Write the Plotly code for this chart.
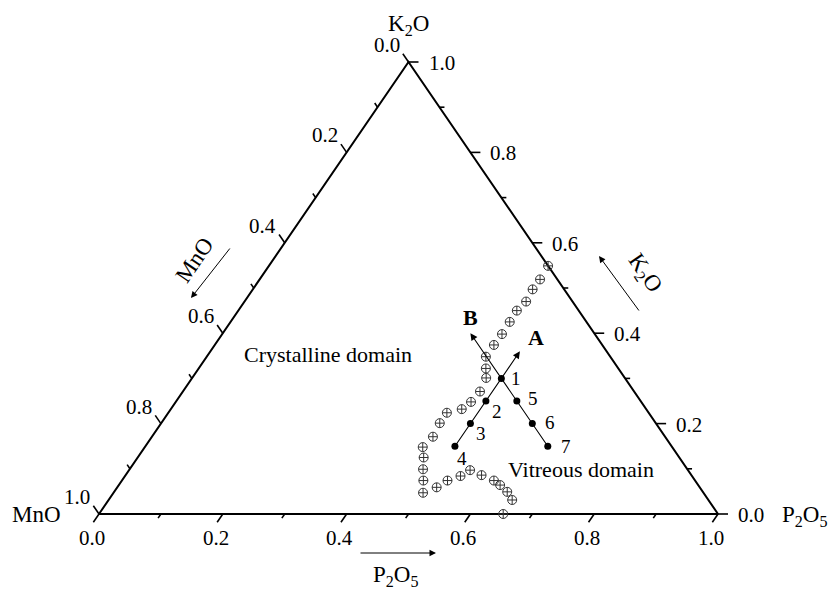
import math
import plotly.graph_objects as go

# ---------------- data ----------------
tick_major = [0.0, 0.2, 0.4, 0.6, 0.8, 1.0]
tick_minor = [0.1, 0.3, 0.5, 0.7, 0.9]
tick_text = ["0.0", "0.2", "0.4", "0.6", "0.8", "1.0"]

# glass-forming boundary (circle-plus markers), compositions (mole fraction)
bnd_k2o = [0.549, 0.519, 0.497, 0.470, 0.450, 0.425, 0.398, 0.374, 0.348,
           0.322, 0.301, 0.271, 0.248, 0.232, 0.224, 0.201, 0.171, 0.148,
           0.125, 0.099, 0.074, 0.047, 0.059, 0.074, 0.084, 0.097, 0.086,
           0.074, 0.064, 0.049, 0.031, 0.000]
bnd_mno = [0.000, 0.028, 0.051, 0.075, 0.100, 0.124, 0.150, 0.175, 0.201,
           0.214, 0.224, 0.249, 0.275, 0.298, 0.326, 0.349, 0.375, 0.403,
           0.413, 0.427, 0.439, 0.453, 0.425, 0.400, 0.374, 0.352, 0.339,
           0.325, 0.320, 0.316, 0.317, 0.347]
bnd_p2o5 = [0.451, 0.453, 0.452, 0.455, 0.450, 0.451, 0.452, 0.451, 0.451,
            0.464, 0.475, 0.480, 0.477, 0.470, 0.450, 0.450, 0.454, 0.449,
            0.462, 0.474, 0.487, 0.500, 0.516, 0.526, 0.542, 0.551, 0.575,
            0.601, 0.616, 0.635, 0.652, 0.653]

# studied glasses 1..7
pt_names = ["1", "2", "3", "4", "5", "6", "7"]
pt_k2o = [0.30, 0.25, 0.20, 0.15, 0.25, 0.20, 0.15]
pt_mno = [0.20, 0.25, 0.30, 0.35, 0.20, 0.20, 0.20]
pt_p2o5 = [0.50, 0.50, 0.50, 0.50, 0.55, 0.60, 0.65]

# composition lines A (P2O5 = 0.5) and B (MnO = 0.2): start, arrow tip
lineA_k2o = [0.15, 0.36]
lineA_mno = [0.35, 0.14]
lineA_p2o5 = [0.50, 0.50]
lineB_k2o = [0.15, 0.40]
lineB_mno = [0.20, 0.20]
lineB_p2o5 = [0.65, 0.40]

# ---------------- geometry / style ----------------
W, H = 832, 590
OX, OY = 99, 514        # pixel of the MnO corner
SX, SY = 619, 452       # pixels per unit along x and y
FONT = "Liberation Serif"


def to_xy(k, m, p):
    s = k + m + p
    return (p + 0.5 * k) / s, k / s


def px2d(px, py):
    return (px - OX) / SX, (OY - py) / SY


def seg_end(x, y, ux, uy, L):
    n = math.hypot(ux, uy)
    return x + L * ux / n / SX, y - L * uy / n / SY


fig = go.Figure()

# triangle frame
vx, vy = zip(*[to_xy(0, 1, 0), to_xy(0, 0, 1), to_xy(1, 0, 0), to_xy(0, 1, 0)])
fig.add_trace(go.Scatter(x=vx, y=vy, mode="lines",
                         line=dict(color="black", width=2), hoverinfo="skip"))

# ticks
edges = {
    "bottom": (lambda v: to_xy(0, 1 - v, v), (-0.5 * SX, SY)),
    "right": (lambda v: to_xy(v, 0, 1 - v), (1.0, 0.0)),
    "left": (lambda v: to_xy(1 - v, v, 0), (-0.5 * SX, -SY)),
}
tx, ty = [], []
for name, (f, (ux, uy)) in edges.items():
    for vals, L in ((tick_major, 10), (tick_minor, 5)):
        for v in vals:
            x, y = f(v)
            ex, ey = seg_end(x, y, ux, uy, L)
            tx += [x, ex, None]
            ty += [y, ey, None]
fig.add_trace(go.Scatter(x=tx, y=ty, mode="lines",
                         line=dict(color="black", width=1.6), hoverinfo="skip"))

ann = []
lab_font = dict(family=FONT, size=21, color="black")
for v, t in zip(tick_major, tick_text):
    x, y = edges["bottom"][0](v)
    ann.append(dict(x=x, y=y, text=t, showarrow=False, xanchor="center",
                    yanchor="middle", xshift=-7, yshift=-24, font=lab_font))
    x, y = edges["right"][0](v)
    ann.append(dict(x=x, y=y, text=t, showarrow=False, xanchor="left",
                    yanchor="middle", xshift=18, yshift=-1, font=lab_font))
    x, y = edges["left"][0](v)
    ann.append(dict(x=x, y=y, text=t, showarrow=False, xanchor="right",
                    yanchor="middle", xshift=-7, yshift=17, font=lab_font))

# boundary markers
bx, by = zip(*[to_xy(k, m, p) for k, m, p in zip(bnd_k2o, bnd_mno, bnd_p2o5)])
fig.add_trace(go.Scatter(x=bx, y=by, mode="markers",
                         marker=dict(symbol="circle-cross-open", size=9,
                                     color="#333333", line=dict(width=1)),
                         hoverinfo="skip"))

# composition lines with arrows
for ks, ms, ps, lab, lab_off in ((lineA_k2o, lineA_mno, lineA_p2o5, "A", (16, 14)),
                                  (lineB_k2o, lineB_mno, lineB_p2o5, "B", (0, 16))):
    x0, y0 = to_xy(ks[0], ms[0], ps[0])
    x1, y1 = to_xy(ks[1], ms[1], ps[1])
    ann.append(dict(x=x1, y=y1, ax=x0, ay=y0, axref="x", ayref="y",
                    xref="x", yref="y", text="", showarrow=True,
                    arrowhead=2, arrowsize=1.3, arrowwidth=1.1,
                    arrowcolor="black", standoff=0))
    ann.append(dict(x=x1, y=y1, text="<b>%s</b>" % lab, showarrow=False,
                    xshift=lab_off[0], yshift=lab_off[1],
                    font=dict(family=FONT, size=22, color="black")))

# sample points
px_, py_ = zip(*[to_xy(k, m, p) for k, m, p in zip(pt_k2o, pt_mno, pt_p2o5)])
fig.add_trace(go.Scatter(x=px_, y=py_, mode="markers",
                         marker=dict(symbol="circle", size=7, color="black"),
                         hoverinfo="skip"))
num_off = [(15, 0), (11, -10), (11, -10), (7, -12), (16, 3), (18, 1), (18, 0)]
for (x, y), t, (dx, dy) in zip(zip(px_, py_), pt_names, num_off):
    ann.append(dict(x=x, y=y, text=t, showarrow=False, xshift=dx, yshift=dy,
                    font=dict(family=FONT, size=19, color="black")))

# domain texts
dom_font = dict(family=FONT, size=22, color="black")
x, y = px2d(242, 354)
ann.append(dict(x=x, y=y, text="Crystalline domain", showarrow=False,
                xanchor="left", yanchor="middle", font=dom_font))
x, y = px2d(506, 469)
ann.append(dict(x=x, y=y, text="Vitreous domain", showarrow=False,
                xanchor="left", yanchor="middle", font=dom_font))

# vertex titles
tfont = dict(family=FONT, size=23, color="black")
x, y = to_xy(1, 0, 0)
ann.append(dict(x=x, y=y, text="K<sub>2</sub>O", showarrow=False,
                yshift=37, font=tfont))
x, y = to_xy(0, 1, 0)
ann.append(dict(x=x, y=y, text="MnO", showarrow=False, xanchor="right",
                yanchor="middle", xshift=-36, yshift=0, font=tfont))
x, y = to_xy(0, 0, 1)
ann.append(dict(x=x, y=y, text="P<sub>2</sub>O<sub>5</sub>", showarrow=False,
                xanchor="left", yanchor="middle", xshift=62, yshift=-2,
                font=tfont))

# side titles with direction arrows
ang = math.degrees(math.atan2(SY, 0.5 * SX))
x, y = px2d(194, 260)
ann.append(dict(x=x, y=y, text="MnO", showarrow=False, textangle=-ang,
                font=tfont))
x, y = px2d(644, 273)
ann.append(dict(x=x, y=y, text="K<sub>2</sub>O", showarrow=False,
                textangle=ang, font=tfont))
x, y = px2d(396, 576)
ann.append(dict(x=x, y=y, text="P<sub>2</sub>O<sub>5</sub>", showarrow=False,
                font=tfont))
for (p0, p1) in (((231, 247), (191, 298)), ((640, 312), (599, 256)),
                 ((359, 553), (436, 553))):
    x0, y0 = px2d(*p0)
    x1, y1 = px2d(*p1)
    ann.append(dict(x=x1, y=y1, ax=x0, ay=y0, axref="x", ayref="y",
                    text="", showarrow=True, arrowhead=2, arrowsize=1.3,
                    arrowwidth=1, arrowcolor="black", standoff=0))

fig.update_layout(
    width=W, height=H, margin=dict(l=0, r=0, t=0, b=0),
    paper_bgcolor="white", plot_bgcolor="white", showlegend=False,
    xaxis=dict(range=[-OX / SX, (W - OX) / SX], visible=False, fixedrange=True),
    yaxis=dict(range=[-(H - OY) / SY, OY / SY], visible=False, fixedrange=True),
    annotations=ann,
)
fig.write_html("out.html")
